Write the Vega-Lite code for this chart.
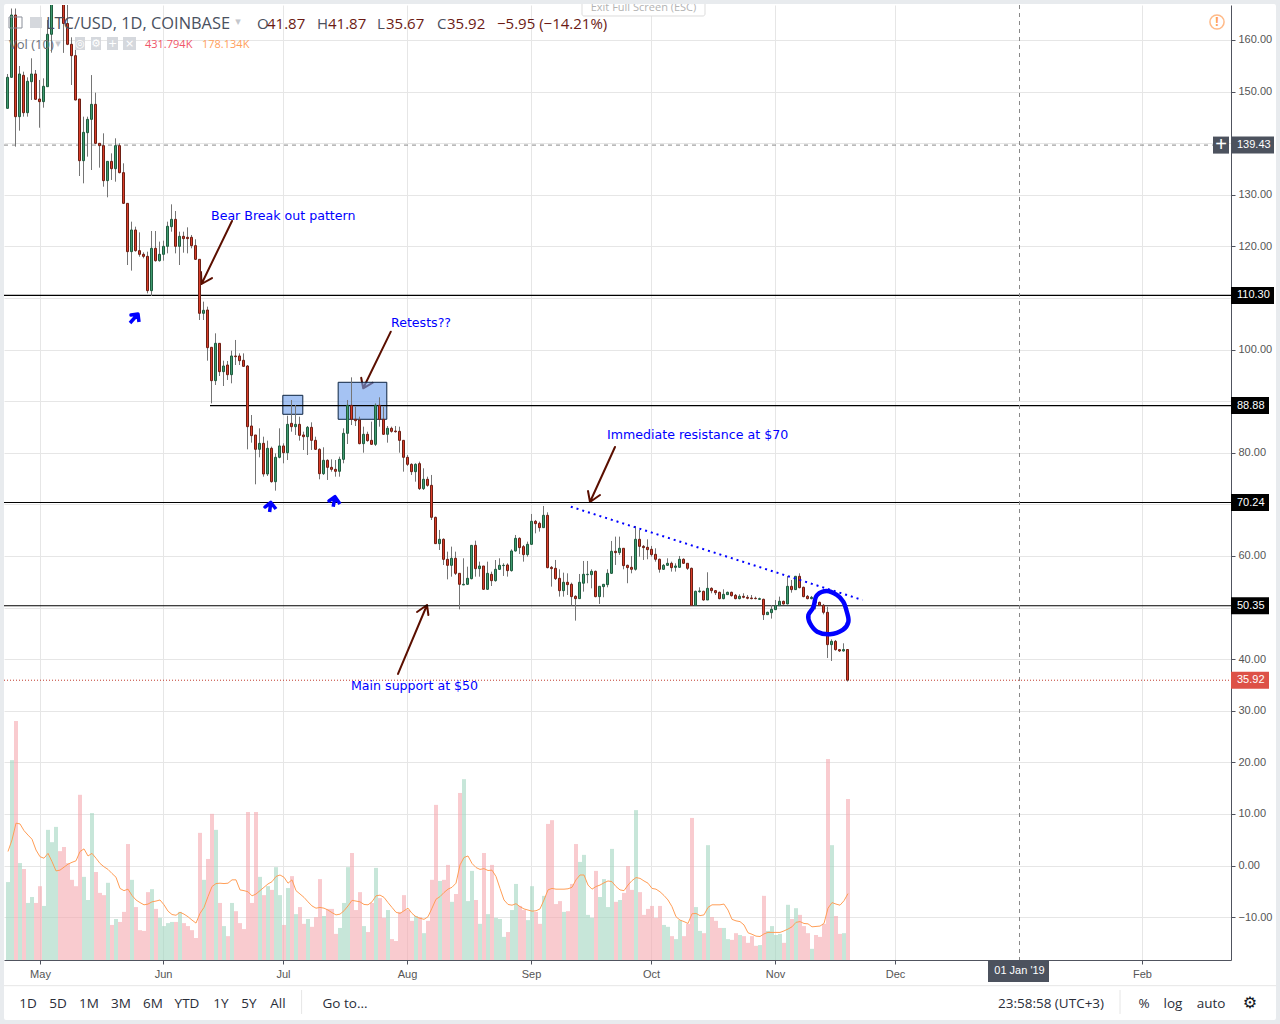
{
"$schema":"https://vega.github.io/schema/vega-lite/v6.json",
"width":1227,"height":955,
"autosize":"none",
"padding":{"left":4,"top":5,"right":49,"bottom":64},
"background":"#ffffff",
"config":{"view":{"stroke":null},"text":{"font":"Open Sans"}},
"datasets":{"bars":[
{"d":"2018-04-23","o":146.75,"h":153.41,"l":146.7,"c":152.76,"v":209,"m":291,"s":"u"},
{"d":"2018-04-24","o":152.76,"h":166.1,"l":152.7,"c":164.84,"v":536,"m":322,"s":"u"},
{"d":"2018-04-25","o":164.84,"h":166.1,"l":139.33,"c":145.14,"v":641,"m":367,"s":"d"},
{"d":"2018-04-26","o":145.14,"h":154.96,"l":142.43,"c":153.41,"v":260,"m":365,"s":"u"},
{"d":"2018-04-27","o":153.15,"h":153.86,"l":145.14,"c":145.91,"v":244,"m":347,"s":"d"},
{"d":"2018-04-28","o":145.91,"h":152.76,"l":145.14,"c":151.99,"v":153,"m":335,"s":"u"},
{"d":"2018-04-29","o":151.92,"h":156.45,"l":148.37,"c":153.41,"v":169,"m":324,"s":"u"},
{"d":"2018-04-30","o":153.41,"h":154.18,"l":148.37,"c":148.5,"v":153,"m":295,"s":"d"},
{"d":"2018-05-01","o":148.56,"h":152.25,"l":143.0,"c":148.05,"v":198,"m":277,"s":"d"},
{"d":"2018-05-02","o":148.05,"h":152.57,"l":146.88,"c":151.02,"v":145,"m":273,"s":"u"},
{"d":"2018-05-03","o":150.95,"h":163.87,"l":150.95,"c":161.1,"v":349,"m":286,"s":"u"},
{"d":"2018-05-04","o":161.1,"h":171,"l":157.54,"c":169,"v":316,"m":264,"s":"u"},
{"d":"2018-05-05","o":169,"h":174,"l":168,"c":172,"v":357,"m":239,"s":"u"},
{"d":"2018-05-06","o":172,"h":175,"l":168,"c":170,"v":292,"m":241,"s":"d"},
{"d":"2018-05-07","o":170,"h":172,"l":157.5,"c":163.2,"v":303,"m":249,"s":"d"},
{"d":"2018-05-08","o":163.2,"h":168,"l":159,"c":159.16,"v":260,"m":257,"s":"d"},
{"d":"2018-05-09","o":159.16,"h":160.52,"l":151.28,"c":156.96,"v":215,"m":262,"s":"d"},
{"d":"2018-05-10","o":156.96,"h":160.52,"l":148.3,"c":148.37,"v":198,"m":266,"s":"d"},
{"d":"2018-05-11","o":148.56,"h":148.56,"l":133.64,"c":136.61,"v":443,"m":291,"s":"d"},
{"d":"2018-05-12","o":136.61,"h":145.14,"l":132.22,"c":142.1,"v":223,"m":298,"s":"u"},
{"d":"2018-05-13","o":142.04,"h":145.14,"l":137.39,"c":144.62,"v":161,"m":279,"s":"u"},
{"d":"2018-05-14","o":144.62,"h":153.2,"l":134.8,"c":147.53,"v":394,"m":286,"s":"u"},
{"d":"2018-05-15","o":147.53,"h":149.79,"l":139.84,"c":139.97,"v":236,"m":273,"s":"d"},
{"d":"2018-05-16","o":139.97,"h":139.97,"l":135.26,"c":139.52,"v":180,"m":259,"s":"d"},
{"d":"2018-05-17","o":139.52,"h":141.91,"l":131.57,"c":132.74,"v":174,"m":250,"s":"d"},
{"d":"2018-05-18","o":132.74,"h":136.48,"l":129.51,"c":136.48,"v":207,"m":243,"s":"u"},
{"d":"2018-05-19","o":136.48,"h":138.03,"l":132.87,"c":135.06,"v":94,"m":232,"s":"d"},
{"d":"2018-05-20","o":135.06,"h":140.94,"l":132.54,"c":139.52,"v":110,"m":222,"s":"u"},
{"d":"2018-05-21","o":139.52,"h":139.97,"l":134.16,"c":134.29,"v":102,"m":192,"s":"d"},
{"d":"2018-05-22","o":134.29,"h":136.1,"l":128.21,"c":128.34,"v":129,"m":186,"s":"d"},
{"d":"2018-05-23","o":128.34,"h":128.34,"l":116.39,"c":118.98,"v":311,"m":190,"s":"d"},
{"d":"2018-05-24","o":118.98,"h":124.79,"l":115.3,"c":123.18,"v":215,"m":173,"s":"u"},
{"d":"2018-05-25","o":123.18,"h":123.82,"l":118.98,"c":119.17,"v":142,"m":161,"s":"d"},
{"d":"2018-05-26","o":119.17,"h":122.72,"l":118.0,"c":118.46,"v":80,"m":154,"s":"d"},
{"d":"2018-05-27","o":118.46,"h":118.85,"l":117.69,"c":118.07,"v":78,"m":148,"s":"d"},
{"d":"2018-05-28","o":118.07,"h":118.98,"l":110.9,"c":111.42,"v":182,"m":150,"s":"d"},
{"d":"2018-05-29","o":111.42,"h":122.98,"l":110.38,"c":119.62,"v":190,"m":156,"s":"u"},
{"d":"2018-05-30","o":119.62,"h":122.98,"l":117.04,"c":117.23,"v":137,"m":158,"s":"d"},
{"d":"2018-05-31","o":117.23,"h":120.92,"l":117.04,"c":118.46,"v":113,"m":161,"s":"u"},
{"d":"2018-06-01","o":118.46,"h":121.11,"l":117.23,"c":120.01,"v":91,"m":148,"s":"u"},
{"d":"2018-06-02","o":120.01,"h":124.79,"l":118.65,"c":123.89,"v":99,"m":131,"s":"u"},
{"d":"2018-06-03","o":123.82,"h":128.15,"l":122.85,"c":125.24,"v":102,"m":122,"s":"u"},
{"d":"2018-06-04","o":125.24,"h":126.86,"l":118.65,"c":120.01,"v":102,"m":120,"s":"d"},
{"d":"2018-06-05","o":120.01,"h":122.85,"l":116.39,"c":121.95,"v":129,"m":128,"s":"u"},
{"d":"2018-06-06","o":121.95,"h":122.85,"l":118.78,"c":121.5,"v":99,"m":123,"s":"d"},
{"d":"2018-06-07","o":121.76,"h":123.69,"l":118.65,"c":121.5,"v":91,"m":116,"s":"d"},
{"d":"2018-06-08","o":121.76,"h":122.21,"l":119.62,"c":120.14,"v":80,"m":107,"s":"d"},
{"d":"2018-06-09","o":120.14,"h":121.37,"l":117.36,"c":117.49,"v":59,"m":99,"s":"d"},
{"d":"2018-06-10","o":117.49,"h":117.49,"l":105.73,"c":107.03,"v":341,"m":125,"s":"d"},
{"d":"2018-06-11","o":107.03,"h":109.29,"l":105.73,"c":107.61,"v":215,"m":141,"s":"u"},
{"d":"2018-06-12","o":107.67,"h":108.32,"l":97.85,"c":100.37,"v":271,"m":170,"s":"d"},
{"d":"2018-06-13","o":100.44,"h":100.44,"l":89.58,"c":93.98,"v":392,"m":197,"s":"d"},
{"d":"2018-06-14","o":93.98,"h":103.15,"l":93.14,"c":101.21,"v":349,"m":205,"s":"u"},
{"d":"2018-06-15","o":101.21,"h":101.21,"l":94.88,"c":95.72,"v":153,"m":206,"s":"d"},
{"d":"2018-06-16","o":95.72,"h":97.85,"l":92.94,"c":96.82,"v":91,"m":205,"s":"u"},
{"d":"2018-06-17","o":97.01,"h":97.79,"l":94.11,"c":95.14,"v":64,"m":206,"s":"d"},
{"d":"2018-06-18","o":95.14,"h":99.79,"l":93.46,"c":98.76,"v":153,"m":215,"s":"u"},
{"d":"2018-06-19","o":98.76,"h":101.86,"l":97.01,"c":98.63,"v":131,"m":215,"s":"d"},
{"d":"2018-06-20","o":98.76,"h":99.27,"l":97.01,"c":97.85,"v":99,"m":188,"s":"d"},
{"d":"2018-06-21","o":97.92,"h":99.27,"l":96.69,"c":96.75,"v":83,"m":186,"s":"d"},
{"d":"2018-06-22","o":96.82,"h":97.01,"l":80.67,"c":85.06,"v":397,"m":183,"s":"d"},
{"d":"2018-06-23","o":85.19,"h":87.32,"l":81.96,"c":83.32,"v":153,"m":172,"s":"d"},
{"d":"2018-06-24","o":83.45,"h":83.45,"l":73.89,"c":80.67,"v":397,"m":177,"s":"d"},
{"d":"2018-06-25","o":80.67,"h":84.74,"l":79.12,"c":81.83,"v":223,"m":186,"s":"u"},
{"d":"2018-06-26","o":81.83,"h":83.12,"l":75.37,"c":75.89,"v":174,"m":195,"s":"d"},
{"d":"2018-06-27","o":75.89,"h":82.35,"l":75.5,"c":80.86,"v":198,"m":204,"s":"u"},
{"d":"2018-06-28","o":80.86,"h":81.19,"l":74.21,"c":74.4,"v":188,"m":210,"s":"d"},
{"d":"2018-06-29","o":74.4,"h":79.89,"l":72.66,"c":79.12,"v":249,"m":224,"s":"u"},
{"d":"2018-06-30","o":79.12,"h":84.74,"l":78.93,"c":81.32,"v":174,"m":228,"s":"u"},
{"d":"2018-07-01","o":81.32,"h":81.83,"l":77.96,"c":80.02,"v":94,"m":222,"s":"d"},
{"d":"2018-07-02","o":80.02,"h":87.19,"l":78.6,"c":85.51,"v":193,"m":206,"s":"u"},
{"d":"2018-07-03","o":85.71,"h":90.23,"l":84.09,"c":85.06,"v":225,"m":215,"s":"d"},
{"d":"2018-07-04","o":85.06,"h":89.26,"l":83.45,"c":85.51,"v":123,"m":186,"s":"u"},
{"d":"2018-07-05","o":85.51,"h":87.0,"l":82.35,"c":83.38,"v":142,"m":177,"s":"d"},
{"d":"2018-07-06","o":83.45,"h":84.09,"l":80.54,"c":83.12,"v":97,"m":168,"s":"d"},
{"d":"2018-07-07","o":83.12,"h":85.19,"l":79.57,"c":84.93,"v":110,"m":156,"s":"u"},
{"d":"2018-07-08","o":84.93,"h":85.9,"l":80.54,"c":82.41,"v":89,"m":145,"s":"d"},
{"d":"2018-07-09","o":82.41,"h":83.12,"l":80.54,"c":80.67,"v":115,"m":139,"s":"d"},
{"d":"2018-07-10","o":80.67,"h":80.86,"l":74.86,"c":75.95,"v":217,"m":141,"s":"d"},
{"d":"2018-07-11","o":75.95,"h":81.06,"l":75.7,"c":78.54,"v":118,"m":139,"s":"u"},
{"d":"2018-07-12","o":78.54,"h":78.73,"l":74.73,"c":77.18,"v":137,"m":134,"s":"d"},
{"d":"2018-07-13","o":77.18,"h":78.73,"l":76.34,"c":76.79,"v":137,"m":127,"s":"d"},
{"d":"2018-07-14","o":76.79,"h":78.6,"l":75.37,"c":76.41,"v":70,"m":121,"s":"d"},
{"d":"2018-07-15","o":76.41,"h":79.25,"l":75.37,"c":78.73,"v":86,"m":123,"s":"u"},
{"d":"2018-07-16","o":78.73,"h":84.74,"l":77.96,"c":83.77,"v":153,"m":132,"s":"u"},
{"d":"2018-07-17","o":83.77,"h":90.23,"l":81.7,"c":89.2,"v":249,"m":145,"s":"u"},
{"d":"2018-07-18","o":89.2,"h":94.62,"l":85.38,"c":86.48,"v":287,"m":160,"s":"d"},
{"d":"2018-07-19","o":86.48,"h":88.94,"l":85.19,"c":86.22,"v":134,"m":158,"s":"d"},
{"d":"2018-07-20","o":86.35,"h":87.0,"l":81.64,"c":81.77,"v":182,"m":156,"s":"d"},
{"d":"2018-07-21","o":81.77,"h":85.06,"l":80.02,"c":83.58,"v":91,"m":149,"s":"u"},
{"d":"2018-07-22","o":83.58,"h":84.09,"l":82.15,"c":82.35,"v":75,"m":148,"s":"d"},
{"d":"2018-07-23","o":82.41,"h":86.03,"l":81.51,"c":81.64,"v":153,"m":156,"s":"d"},
{"d":"2018-07-24","o":81.64,"h":89.58,"l":81.32,"c":89.2,"v":247,"m":172,"s":"u"},
{"d":"2018-07-25","o":89.2,"h":90.75,"l":85.06,"c":86.48,"v":166,"m":174,"s":"d"},
{"d":"2018-07-26","o":86.48,"h":88.94,"l":83.45,"c":83.58,"v":113,"m":168,"s":"d"},
{"d":"2018-07-27","o":83.58,"h":85.19,"l":81.96,"c":84.74,"v":134,"m":154,"s":"u"},
{"d":"2018-07-28","o":84.74,"h":85.06,"l":83.9,"c":84.16,"v":56,"m":141,"s":"d"},
{"d":"2018-07-29","o":84.22,"h":85.19,"l":83.9,"c":84.09,"v":51,"m":128,"s":"d"},
{"d":"2018-07-30","o":84.16,"h":85.06,"l":80.02,"c":82.41,"v":129,"m":125,"s":"d"},
{"d":"2018-07-31","o":82.41,"h":82.41,"l":76.34,"c":79.12,"v":174,"m":132,"s":"d"},
{"d":"2018-08-01","o":79.12,"h":79.57,"l":77.44,"c":77.76,"v":134,"m":139,"s":"d"},
{"d":"2018-08-02","o":77.76,"h":77.96,"l":75.7,"c":76.34,"v":105,"m":125,"s":"d"},
{"d":"2018-08-03","o":76.34,"h":77.96,"l":74.4,"c":77.76,"v":118,"m":116,"s":"u"},
{"d":"2018-08-04","o":77.89,"h":78.28,"l":72.79,"c":73.05,"v":115,"m":112,"s":"d"},
{"d":"2018-08-05","o":73.05,"h":76.99,"l":72.79,"c":74.86,"v":72,"m":109,"s":"u"},
{"d":"2018-08-06","o":74.86,"h":75.37,"l":73.43,"c":73.69,"v":105,"m":116,"s":"d"},
{"d":"2018-08-07","o":73.69,"h":75.7,"l":66.97,"c":67.49,"v":215,"m":139,"s":"d"},
{"d":"2018-08-08","o":67.49,"h":67.62,"l":62.32,"c":62.39,"v":416,"m":163,"s":"d"},
{"d":"2018-08-09","o":62.39,"h":65.04,"l":61.16,"c":63.23,"v":212,"m":170,"s":"u"},
{"d":"2018-08-10","o":63.23,"h":63.42,"l":58.25,"c":59.35,"v":215,"m":181,"s":"d"},
{"d":"2018-08-11","o":59.35,"h":60.84,"l":55.47,"c":58.19,"v":255,"m":190,"s":"d"},
{"d":"2018-08-12","o":58.19,"h":61.81,"l":55.99,"c":59.55,"v":156,"m":195,"s":"u"},
{"d":"2018-08-13","o":59.55,"h":60.84,"l":56.31,"c":56.64,"v":177,"m":206,"s":"d"},
{"d":"2018-08-14","o":56.64,"h":56.64,"l":49.66,"c":54.51,"v":448,"m":255,"s":"d"},
{"d":"2018-08-15","o":54.38,"h":59.55,"l":54.38,"c":54.51,"v":485,"m":275,"s":"u"},
{"d":"2018-08-16","o":54.51,"h":57.93,"l":54.38,"c":55.67,"v":158,"m":279,"s":"u"},
{"d":"2018-08-17","o":55.6,"h":62.13,"l":55.47,"c":62.06,"v":239,"m":259,"s":"u"},
{"d":"2018-08-18","o":62.06,"h":62.97,"l":55.99,"c":57.54,"v":161,"m":248,"s":"d"},
{"d":"2018-08-19","o":57.54,"h":58.9,"l":55.99,"c":58.06,"v":97,"m":243,"s":"u"},
{"d":"2018-08-20","o":58.06,"h":58.06,"l":53.41,"c":53.54,"v":287,"m":245,"s":"d"},
{"d":"2018-08-21","o":53.54,"h":58.9,"l":53.41,"c":56.64,"v":123,"m":240,"s":"u"},
{"d":"2018-08-22","o":56.44,"h":56.96,"l":54.18,"c":55.22,"v":255,"m":241,"s":"d"},
{"d":"2018-08-23","o":55.22,"h":59.22,"l":55.02,"c":57.41,"v":113,"m":224,"s":"u"},
{"d":"2018-08-24","o":57.41,"h":59.55,"l":57.28,"c":58.19,"v":110,"m":192,"s":"u"},
{"d":"2018-08-25","o":58.19,"h":58.58,"l":56.13,"c":58.13,"v":62,"m":161,"s":"u"},
{"d":"2018-08-26","o":58.26,"h":58.58,"l":56.0,"c":57.16,"v":75,"m":149,"s":"d"},
{"d":"2018-08-27","o":57.16,"h":61.29,"l":56.97,"c":60.97,"v":134,"m":147,"s":"u"},
{"d":"2018-08-28","o":60.97,"h":64.07,"l":60.84,"c":63.42,"v":204,"m":151,"s":"u"},
{"d":"2018-08-29","o":63.42,"h":63.62,"l":60.39,"c":61.62,"v":145,"m":143,"s":"d"},
{"d":"2018-08-30","o":61.81,"h":62.13,"l":58.9,"c":60.26,"v":134,"m":137,"s":"d"},
{"d":"2018-08-31","o":60.26,"h":62.78,"l":59.87,"c":62.26,"v":107,"m":134,"s":"u"},
{"d":"2018-09-01","o":62.26,"h":68.14,"l":62.13,"c":66.72,"v":198,"m":131,"s":"u"},
{"d":"2018-09-02","o":66.72,"h":66.98,"l":64.39,"c":66.27,"v":129,"m":132,"s":"d"},
{"d":"2018-09-03","o":66.33,"h":66.66,"l":64.72,"c":65.49,"v":97,"m":137,"s":"d"},
{"d":"2018-09-04","o":65.49,"h":69.69,"l":65.49,"c":67.88,"v":172,"m":161,"s":"u"},
{"d":"2018-09-05","o":67.88,"h":68.46,"l":57.61,"c":57.74,"v":365,"m":188,"s":"d"},
{"d":"2018-09-06","o":57.8,"h":58.06,"l":54.06,"c":57.55,"v":375,"m":192,"s":"d"},
{"d":"2018-09-07","o":57.61,"h":59.23,"l":55.35,"c":55.61,"v":150,"m":190,"s":"d"},
{"d":"2018-09-08","o":55.67,"h":57.42,"l":52.12,"c":53.28,"v":158,"m":190,"s":"d"},
{"d":"2018-09-09","o":53.28,"h":56.77,"l":52.12,"c":54.9,"v":129,"m":190,"s":"u"},
{"d":"2018-09-10","o":54.9,"h":56.64,"l":52.44,"c":54.45,"v":131,"m":191,"s":"d"},
{"d":"2018-09-11","o":54.51,"h":54.83,"l":50.44,"c":52.12,"v":204,"m":195,"s":"d"},
{"d":"2018-09-12","o":52.18,"h":52.38,"l":47.47,"c":51.73,"v":311,"m":215,"s":"d"},
{"d":"2018-09-13","o":51.73,"h":56.51,"l":51.73,"c":54.9,"v":263,"m":228,"s":"u"},
{"d":"2018-09-14","o":54.72,"h":59.03,"l":53.09,"c":56.45,"v":282,"m":228,"s":"u"},
{"d":"2018-09-15","o":56.38,"h":59.03,"l":54.72,"c":56.45,"v":121,"m":201,"s":"u"},
{"d":"2018-09-16","o":56.38,"h":57.42,"l":53.73,"c":57.03,"v":113,"m":190,"s":"u"},
{"d":"2018-09-17","o":57.03,"h":57.16,"l":52.0,"c":52.12,"v":239,"m":197,"s":"d"},
{"d":"2018-09-18","o":52.12,"h":54.12,"l":50.7,"c":54.12,"v":169,"m":201,"s":"u"},
{"d":"2018-09-19","o":54.06,"h":54.57,"l":52.0,"c":54.51,"v":217,"m":207,"s":"u"},
{"d":"2018-09-20","o":54.45,"h":57.42,"l":53.93,"c":56.64,"v":142,"m":212,"s":"u"},
{"d":"2018-09-21","o":56.64,"h":62.91,"l":56.51,"c":60.91,"v":298,"m":210,"s":"u"},
{"d":"2018-09-22","o":60.91,"h":63.75,"l":58.26,"c":60.65,"v":156,"m":197,"s":"d"},
{"d":"2018-09-23","o":60.65,"h":63.75,"l":60.2,"c":61.49,"v":161,"m":188,"s":"u"},
{"d":"2018-09-24","o":61.49,"h":61.49,"l":57.42,"c":58.13,"v":180,"m":186,"s":"d"},
{"d":"2018-09-25","o":58.19,"h":58.32,"l":54.72,"c":57.74,"v":252,"m":201,"s":"d"},
{"d":"2018-09-26","o":57.8,"h":60.0,"l":56.64,"c":57.42,"v":188,"m":213,"s":"d"},
{"d":"2018-09-27","o":57.42,"h":65.82,"l":57.16,"c":63.23,"v":402,"m":221,"s":"u"},
{"d":"2018-09-28","o":63.23,"h":65.04,"l":59.87,"c":61.87,"v":182,"m":219,"s":"d"},
{"d":"2018-09-29","o":61.87,"h":62.13,"l":59.23,"c":61.62,"v":121,"m":212,"s":"d"},
{"d":"2018-09-30","o":61.68,"h":63.23,"l":59.36,"c":61.23,"v":137,"m":206,"s":"d"},
{"d":"2018-10-01","o":61.29,"h":61.94,"l":59.87,"c":60.26,"v":145,"m":192,"s":"d"},
{"d":"2018-10-02","o":60.32,"h":61.49,"l":58.9,"c":59.36,"v":113,"m":190,"s":"d"},
{"d":"2018-10-03","o":59.36,"h":59.49,"l":56.77,"c":57.42,"v":145,"m":183,"s":"d"},
{"d":"2018-10-04","o":57.42,"h":58.45,"l":57.29,"c":58.19,"v":94,"m":173,"s":"u"},
{"d":"2018-10-05","o":58.19,"h":59.55,"l":58.06,"c":58.58,"v":89,"m":161,"s":"u"},
{"d":"2018-10-06","o":58.58,"h":58.9,"l":56.97,"c":57.74,"v":64,"m":143,"s":"d"},
{"d":"2018-10-07","o":57.8,"h":58.58,"l":56.97,"c":58.06,"v":56,"m":116,"s":"u"},
{"d":"2018-10-08","o":57.8,"h":60.0,"l":57.74,"c":59.36,"v":107,"m":107,"s":"u"},
{"d":"2018-10-09","o":59.36,"h":59.55,"l":58.45,"c":58.58,"v":64,"m":103,"s":"d"},
{"d":"2018-10-10","o":58.58,"h":58.58,"l":57.29,"c":57.61,"v":97,"m":98,"s":"d"},
{"d":"2018-10-11","o":57.61,"h":57.74,"l":50.31,"c":50.44,"v":381,"m":124,"s":"d"},
{"d":"2018-10-12","o":50.44,"h":53.28,"l":50.31,"c":53.15,"v":142,"m":125,"s":"u"},
{"d":"2018-10-13","o":53.09,"h":53.93,"l":52.89,"c":53.22,"v":78,"m":119,"s":"u"},
{"d":"2018-10-14","o":53.15,"h":53.28,"l":51.34,"c":51.47,"v":72,"m":121,"s":"d"},
{"d":"2018-10-15","o":51.47,"h":56.84,"l":51.47,"c":53.73,"v":308,"m":141,"s":"u"},
{"d":"2018-10-16","o":53.73,"h":53.93,"l":52.77,"c":53.28,"v":115,"m":148,"s":"d"},
{"d":"2018-10-17","o":53.28,"h":53.41,"l":52.44,"c":52.89,"v":105,"m":148,"s":"d"},
{"d":"2018-10-18","o":52.96,"h":53.09,"l":51.6,"c":51.73,"v":86,"m":148,"s":"d"},
{"d":"2018-10-19","o":51.73,"h":53.54,"l":51.6,"c":52.57,"v":86,"m":150,"s":"u"},
{"d":"2018-10-20","o":52.51,"h":53.09,"l":52.44,"c":52.96,"v":56,"m":134,"s":"u"},
{"d":"2018-10-21","o":52.96,"h":53.09,"l":52.12,"c":52.31,"v":54,"m":109,"s":"d"},
{"d":"2018-10-22","o":52.38,"h":52.64,"l":51.6,"c":51.73,"v":72,"m":105,"s":"d"},
{"d":"2018-10-23","o":51.73,"h":52.57,"l":51.6,"c":52.18,"v":67,"m":103,"s":"u"},
{"d":"2018-10-24","o":52.18,"h":52.77,"l":51.8,"c":51.99,"v":64,"m":94,"s":"d"},
{"d":"2018-10-25","o":51.99,"h":52.44,"l":51.6,"c":51.8,"v":46,"m":73,"s":"d"},
{"d":"2018-10-26","o":51.86,"h":52.44,"l":51.6,"c":51.73,"v":64,"m":69,"s":"d"},
{"d":"2018-10-27","o":51.8,"h":52.12,"l":51.6,"c":51.73,"v":38,"m":64,"s":"d"},
{"d":"2018-10-28","o":51.6,"h":51.93,"l":51.47,"c":51.73,"v":40,"m":63,"s":"u"},
{"d":"2018-10-29","o":51.6,"h":51.73,"l":47.6,"c":48.63,"v":172,"m":70,"s":"d"},
{"d":"2018-10-30","o":48.63,"h":49.21,"l":48.57,"c":49.08,"v":78,"m":74,"s":"u"},
{"d":"2018-10-31","o":49.02,"h":50.5,"l":47.86,"c":49.66,"v":91,"m":74,"s":"u"},
{"d":"2018-11-01","o":49.6,"h":51.47,"l":49.54,"c":50.37,"v":67,"m":74,"s":"u"},
{"d":"2018-11-02","o":50.37,"h":52.12,"l":50.31,"c":51.22,"v":70,"m":74,"s":"u"},
{"d":"2018-11-03","o":51.22,"h":51.34,"l":50.57,"c":50.7,"v":46,"m":78,"s":"d"},
{"d":"2018-11-04","o":50.7,"h":56.13,"l":50.63,"c":54.12,"v":148,"m":83,"s":"u"},
{"d":"2018-11-05","o":54.12,"h":55.35,"l":52.89,"c":53.48,"v":110,"m":89,"s":"d"},
{"d":"2018-11-06","o":53.48,"h":56.13,"l":53.41,"c":56.06,"v":139,"m":101,"s":"u"},
{"d":"2018-11-07","o":56.06,"h":56.64,"l":53.73,"c":53.86,"v":121,"m":103,"s":"d"},
{"d":"2018-11-08","o":53.93,"h":54.06,"l":52.0,"c":52.12,"v":91,"m":98,"s":"d"},
{"d":"2018-11-09","o":52.18,"h":52.44,"l":51.6,"c":51.73,"v":72,"m":97,"s":"d"},
{"d":"2018-11-10","o":51.73,"h":52.25,"l":51.6,"c":51.99,"v":30,"m":89,"s":"u"},
{"d":"2018-11-11","o":51.99,"h":52.12,"l":49.66,"c":50.96,"v":67,"m":90,"s":"d"},
{"d":"2018-11-12","o":51.02,"h":51.15,"l":50.31,"c":50.44,"v":62,"m":91,"s":"d"},
{"d":"2018-11-13","o":50.44,"h":50.7,"l":48.69,"c":49.08,"v":97,"m":98,"s":"d"},
{"d":"2018-11-14","o":49.08,"h":50.18,"l":40.23,"c":42.82,"v":539,"m":139,"s":"d"},
{"d":"2018-11-15","o":42.82,"h":43.85,"l":39.65,"c":43.46,"v":308,"m":154,"s":"u"},
{"d":"2018-11-16","o":43.46,"h":43.72,"l":41.65,"c":41.85,"v":118,"m":150,"s":"d"},
{"d":"2018-11-17","o":41.85,"h":41.91,"l":41.4,"c":41.59,"v":70,"m":147,"s":"d"},
{"d":"2018-11-18","o":41.59,"h":43.08,"l":41.46,"c":41.87,"v":72,"m":159,"s":"u"},
{"d":"2018-11-19","o":41.87,"h":41.87,"l":35.67,"c":35.92,"v":431.794,"m":178.134,"s":"d"}
]},
"data":{"name":"bars"},
"encoding":{"x":{"field":"d","type":"temporal","title":null,
 "scale":{"type":"utc","padding":0,"domain":[{"year":2018,"month":4,"date":22,"utc":true},{"year":2019,"month":2,"date":22,"hours":18,"utc":true}]},
 "axis":{"values":[{"year":2018,"month":5,"date":1,"utc":true},{"year":2018,"month":5,"date":31,"hours":18,"utc":true},{"year":2018,"month":6,"date":30,"hours":18,"utc":true},{"year":2018,"month":7,"date":31,"hours":18,"utc":true},{"year":2018,"month":8,"date":31,"hours":18,"utc":true},{"year":2018,"month":9,"date":30,"hours":18,"utc":true},{"year":2018,"month":10,"date":31,"hours":18,"utc":true},{"year":2018,"month":11,"date":30,"hours":18,"utc":true},{"year":2019,"month":1,"date":31,"hours":12,"utc":true}],
  "labelExpr":"utcFormat(+datum.value+86400000,'%b')","grid":true,"gridColor":"#e6e6e6","domainColor":"#50535e","tickColor":"#50535e","labelColor":"#555555","labelFont":"Liberation Sans","labelFontSize":11,"tickSize":4,"labelPadding":4,"title":null}}},
"resolve":{"scale":{"y":"independent","fill":"independent"}},
"layer":[
 {"mark":{"type":"bar","size":4,"opacity":0.58},
  "encoding":{"y":{"field":"v","type":"quantitative","stack":null,"scale":{"domain":[0,2561.3],"nice":false,"zero":false},"axis":null},
   "color":{"field":"s","type":"nominal","legend":null,"scale":{"domain":["u","d"],"range":["#9fd4bd","#f5a6ad"]}}}},
 {"mark":{"type":"line","color":"#ff9e57","strokeWidth":1,"clip":true},
  "encoding":{"y":{"field":"m","type":"quantitative","scale":{"domain":[0,2561.3],"nice":false,"zero":false},"axis":null}}},
 {"data":{"values":[
  {"id":"a1","n":0,"d":"2018-06-18T00:00:00Z","p":124.92},{"id":"a1","n":1,"d":"2018-06-10T09:00:00Z","p":112.71},{"id":"a1","n":2,"d":"2018-06-10T06:00:00Z","p":115.04},{"id":"a1","n":3,"d":"2018-06-10T09:00:00Z","p":112.71},{"id":"a1","n":4,"d":"2018-06-13T00:00:00Z","p":113.87},
  {"id":"a2","n":0,"d":"2018-07-27T16:48:00Z","p":103.47},{"id":"a2","n":1,"d":"2018-07-20T19:12:00Z","p":92.5},{"id":"a2","n":2,"d":"2018-07-20T07:12:00Z","p":94.55},{"id":"a2","n":3,"d":"2018-07-20T19:12:00Z","p":92.5},{"id":"a2","n":4,"d":"2018-07-23T04:48:00Z","p":93.58},
  {"id":"a3","n":0,"d":"2018-09-21T18:00:00Z","p":81.12},{"id":"a3","n":1,"d":"2018-09-15T12:00:00Z","p":70.46},{"id":"a3","n":2,"d":"2018-09-15T00:00:00Z","p":72.59},{"id":"a3","n":3,"d":"2018-09-15T12:00:00Z","p":70.46},{"id":"a3","n":4,"d":"2018-09-18T00:00:00Z","p":71.82},
  {"id":"a4","n":0,"d":"2018-07-29T12:00:00Z","p":37.13},{"id":"a4","n":1,"d":"2018-08-05T18:00:00Z","p":50.5},{"id":"a4","n":2,"d":"2018-08-03T06:00:00Z","p":49.15},{"id":"a4","n":3,"d":"2018-08-05T18:00:00Z","p":50.5},{"id":"a4","n":4,"d":"2018-08-06T02:24:00Z","p":48.56}
  ]},
  "mark":{"type":"line","color":"#5b0f00","strokeWidth":2,"strokeCap":"round","strokeJoin":"round"},
  "encoding":{"y":{"field":"p","type":"quantitative","scale":{"domain":[-18.3,166.78],"nice":false,"zero":false},
    "axis":{"orient":"right","values":[160,150,140,130,120,110,100,90,80,70,60,50,40,30,20,10,0,-10],"labelExpr":"indexof([140,110,90,70,50],datum.value)>=0?'':format(datum.value,'.2f')","grid":true,"gridColor":"#e6e6e6","domainColor":"#50535e","tickColor":"#50535e","labelColor":"#555555","labelFont":"Liberation Sans","labelFontSize":11,"tickSize":4,"labelPadding":3,"title":null}},
   "detail":{"field":"id"},"order":{"field":"n"}}},
 {"data":{"values":[
  {"d":"2018-06-30T16:48:00Z","d2":"2018-07-05T16:48:00Z","p":91.14,"p2":87.46},
  {"d":"2018-07-14T13:00:00Z","d2":"2018-07-26T16:48:00Z","p":93.66,"p2":86.49}],"format":{"parse":{"d":"date","d2":"date"}}},
  "mark":{"type":"rect","fill":"#6d9eeb","fillOpacity":0.62,"stroke":"#0c2340","strokeWidth":1},
  "encoding":{"x2":{"field":"d2"},"y":{"field":"p","type":"quantitative","scale":{"domain":[-18.3,166.78],"nice":false,"zero":false},"axis":null},"y2":{"field":"p2"}}},
 {"data":{"values":[
  {"d":"2018-04-22T00:00:00Z","d2":"2019-02-22T18:00:00Z","p":110.5},
  {"d":"2018-06-12T12:00:00Z","d2":"2019-02-22T18:00:00Z","p":89.15},
  {"d":"2018-04-22T00:00:00Z","d2":"2019-02-22T18:00:00Z","p":70.36},
  {"d":"2018-04-22T00:00:00Z","d2":"2019-02-22T18:00:00Z","p":50.35}],"format":{"parse":{"d":"date","d2":"date"}}},
  "mark":{"type":"rule","color":"#000000","strokeWidth":1.2},
  "encoding":{"x2":{"field":"d2"},"y":{"field":"p","type":"quantitative","scale":{"domain":[-18.3,166.78],"nice":false,"zero":false},"axis":null}}},
 {"data":{"values":[{"d":"2018-04-22T00:00:00Z","d2":"2019-02-22T18:00:00Z","p":35.92}],"format":{"parse":{"d":"date","d2":"date"}}},
  "mark":{"type":"rule","color":"#c0392b","strokeWidth":1,"strokeDash":[1,2]},
  "encoding":{"x2":{"field":"d2"},"y":{"field":"p","type":"quantitative","scale":{"domain":[-18.3,166.78],"nice":false,"zero":false},"axis":null}}},
 {"data":{"values":[{"d":"2018-04-22T00:00:00Z","d2":"2019-02-19T00:00:00Z","p":139.63}],"format":{"parse":{"d":"date","d2":"date"}}},
  "mark":{"type":"rule","color":"#888888","strokeWidth":1,"strokeDash":[4,4]},
  "encoding":{"x2":{"field":"d2"},"y":{"field":"p","type":"quantitative","scale":{"domain":[-18.3,166.78],"nice":false,"zero":false},"axis":null}}},
 {"data":{"values":[{"d":"2019-01-01T00:00:00Z","p":166.78,"p2":-18.3}]},
  "mark":{"type":"rule","color":"#888888","strokeWidth":1,"strokeDash":[4,4],"xOffset":-0.5},
  "encoding":{"y":{"field":"p","type":"quantitative","scale":{"domain":[-18.3,166.78],"nice":false,"zero":false},"axis":null},"y2":{"field":"p2"}}},
 {"mark":{"type":"rule","color":"#757575","strokeWidth":1,"xOffset":-0.5,"clip":true},
  "encoding":{"y":{"field":"l","type":"quantitative","scale":{"domain":[-18.3,166.78],"nice":false,"zero":false},"axis":null},"y2":{"field":"h"}}},
 {"mark":{"type":"bar","size":2,"strokeWidth":1,"xOffset":-0.5,"clip":true},
  "encoding":{"y":{"field":"o","type":"quantitative","scale":{"domain":[-18.3,166.78],"nice":false,"zero":false},"axis":null},"y2":{"field":"c"},
   "fill":{"field":"s","type":"nominal","legend":null,"scale":{"domain":["u","d"],"range":["#3f9a6e","#d93c28"]}},
   "stroke":{"field":"s","type":"nominal","legend":null,"scale":{"domain":["u","d"],"range":["#1f5c3f","#6e1f14"]}}}},
 {"data":{"values":[{"d":"2018-09-10T16:48:00Z","p":69.55},{"d":"2018-11-22T14:24:00Z","p":51.47}]},
  "mark":{"type":"line","color":"#0000ff","strokeWidth":2,"strokeDash":[2,4]},
  "encoding":{"y":{"field":"p","type":"quantitative","scale":{"domain":[-18.3,166.78],"nice":false,"zero":false},"axis":null}}},
 {"data":{"values":[
  {"n":0,"d":"2018-11-10T14:24:00Z","p":50.83},{"n":1,"d":"2018-11-11T07:12:00Z","p":52.44},{"n":2,"d":"2018-11-13T16:48:00Z","p":53.21},{"n":3,"d":"2018-11-16T04:48:00Z","p":52.44},{"n":4,"d":"2018-11-17T19:12:00Z","p":51.14},{"n":5,"d":"2018-11-18T16:48:00Z","p":49.2},{"n":6,"d":"2018-11-19T02:24:00Z","p":47.26},{"n":7,"d":"2018-11-17T16:48:00Z","p":45.66},{"n":8,"d":"2018-11-14T12:00:00Z","p":44.82},{"n":9,"d":"2018-11-11T07:12:00Z","p":45.33},{"n":10,"d":"2018-11-09T12:00:00Z","p":46.95},{"n":11,"d":"2018-11-09T02:24:00Z","p":48.56},{"n":12,"d":"2018-11-10T04:48:00Z","p":49.86},{"n":13,"d":"2018-11-10T14:24:00Z","p":50.83}]},
  "mark":{"type":"line","color":"#0000ff","strokeWidth":4.5,"interpolate":"cardinal","strokeCap":"round"},
  "encoding":{"y":{"field":"p","type":"quantitative","scale":{"domain":[-18.3,166.78],"nice":false,"zero":false},"axis":null},"order":{"field":"n"}}},
 {"data":{"values":[
  {"id":"b1","n":0,"d":"2018-05-23T12:00:00Z","p":105.15},{"id":"b1","n":1,"d":"2018-05-25T12:00:00Z","p":106.9},{"id":"b1","n":2,"d":"2018-05-23T18:00:00Z","p":106.7},{"id":"b1","n":3,"d":"2018-05-25T12:00:00Z","p":106.9},{"id":"b1","n":4,"d":"2018-05-25T18:00:00Z","p":105.35},
  {"id":"b2","n":0,"d":"2018-06-27T09:36:00Z","p":68.52},{"id":"b2","n":1,"d":"2018-06-27T16:48:00Z","p":70.37},{"id":"b2","n":2,"d":"2018-06-26T06:00:00Z","p":69.49},{"id":"b2","n":3,"d":"2018-06-27T16:48:00Z","p":70.37},{"id":"b2","n":4,"d":"2018-06-29T00:00:00Z","p":69.11},
  {"id":"b3","n":0,"d":"2018-07-13T07:12:00Z","p":69.55},{"id":"b3","n":1,"d":"2018-07-13T18:00:00Z","p":71.49},{"id":"b3","n":2,"d":"2018-07-12T06:00:00Z","p":70.66},{"id":"b3","n":3,"d":"2018-07-13T18:00:00Z","p":71.49},{"id":"b3","n":4,"d":"2018-07-15T00:00:00Z","p":70.07}]},
  "mark":{"type":"line","color":"#0000ff","strokeWidth":3.5,"strokeJoin":"round"},
  "encoding":{"y":{"field":"p","type":"quantitative","scale":{"domain":[-18.3,166.78],"nice":false,"zero":false},"axis":null},"detail":{"field":"id"},"order":{"field":"n"}}},
 {"data":{"values":[
  {"d":"2018-06-12T18:00:00Z","p":125.99,"t":"Bear Break out pattern"},
  {"d":"2018-07-27T18:00:00Z","p":105.25,"t":"Retests??"},
  {"d":"2018-09-19T18:00:00Z","p":83.55,"t":"Immediate resistance at $70"},
  {"d":"2018-07-17T18:00:00Z","p":34.9,"t":"Main support at $50"}]},
  "mark":{"type":"text","align":"left","baseline":"middle","dy":1,"color":"#0000ff","font":"DejaVu Sans","fontSize":12.6},
  "encoding":{"y":{"field":"p","type":"quantitative","scale":{"domain":[-18.3,166.78],"nice":false,"zero":false},"axis":null},"text":{"field":"t"}}},
 {"data":{"values":[
  {"d":"2019-02-22T18:00:00Z","d2":"2019-03-05T12:00:00Z","p":112.15,"p2":108.85,"c":"k"},
  {"d":"2019-02-22T18:00:00Z","d2":"2019-03-04T06:00:00Z","p":90.8,"p2":87.5,"c":"k"},
  {"d":"2019-02-22T18:00:00Z","d2":"2019-03-04T06:00:00Z","p":72.01,"p2":68.71,"c":"k"},
  {"d":"2019-02-22T18:00:00Z","d2":"2019-03-04T06:00:00Z","p":52.0,"p2":48.7,"c":"k"},
  {"d":"2019-02-22T18:00:00Z","d2":"2019-03-04T06:00:00Z","p":37.57,"p2":34.27,"c":"r"},
  {"d":"2019-02-22T18:00:00Z","d2":"2019-03-05T12:00:00Z","p":141.28,"p2":137.98,"c":"g"},
  {"d":"2019-02-18T06:00:00Z","d2":"2019-02-22T06:00:00Z","p":141.28,"p2":137.98,"c":"g"},
  {"d":"2018-12-24T00:00:00Z","d2":"2019-01-08T06:00:00Z","p":-18.3,"p2":-22.56,"c":"g"}],"format":{"parse":{"d":"date","d2":"date"}}},
  "mark":{"type":"rect"},
  "encoding":{"x2":{"field":"d2"},"y":{"field":"p","type":"quantitative","scale":{"domain":[-18.3,166.78],"nice":false,"zero":false},"axis":null},"y2":{"field":"p2"},
   "fill":{"field":"c","type":"nominal","legend":null,"scale":{"domain":["k","r","g"],"range":["#000000","#dd5147","#4c525e"]}}}},
 {"data":{"values":[
  {"d":"2019-02-24T06:00:00Z","p":110.5,"t":"110.30"},{"d":"2019-02-24T06:00:00Z","p":89.15,"t":"88.88"},{"d":"2019-02-24T06:00:00Z","p":70.36,"t":"70.24"},{"d":"2019-02-24T06:00:00Z","p":50.35,"t":"50.35"},{"d":"2019-02-24T06:00:00Z","p":35.92,"t":"35.92"},{"d":"2019-02-24T06:00:00Z","p":139.63,"t":"139.43"}]},
  "mark":{"type":"text","align":"left","baseline":"middle","color":"#ffffff","font":"Liberation Sans","fontSize":11},
  "encoding":{"y":{"field":"p","type":"quantitative","scale":{"domain":[-18.3,166.78],"nice":false,"zero":false},"axis":null},"text":{"field":"t"}}},
 {"data":{"values":[{"d":"2018-12-31T21:00:00Z","p":-20.43,"t":"01 Jan '19"}]},
  "mark":{"type":"text","align":"center","baseline":"middle","color":"#ffffff","font":"Liberation Sans","fontSize":11},
  "encoding":{"y":{"field":"p","type":"quantitative","scale":{"domain":[-18.3,166.78],"nice":false,"zero":false},"axis":null},"text":{"field":"t"}}},
 {"data":{"values":[{"d":"2019-02-20T06:00:00Z","p":139.63,"t":"+"}]},
  "mark":{"type":"text","align":"center","baseline":"middle","color":"#ffffff","font":"Liberation Sans","fontSize":20},
  "encoding":{"y":{"field":"p","type":"quantitative","scale":{"domain":[-18.3,166.78],"nice":false,"zero":false},"axis":null},"text":{"field":"t"}}},
 {"data":{"values":[{"d":"2018-05-02T12:00:00Z","p":163.29,"t":"LTC/USD, 1D, COINBASE"}]},
  "mark":{"type":"text","align":"left","baseline":"middle","dy":1,"color":"#4a5160","fontSize":16.4},
  "encoding":{"y":{"field":"p","type":"quantitative","scale":{"domain":[-18.3,166.78],"nice":false,"zero":false},"axis":null},"text":{"field":"t"}}},
 {"data":{"values":[{"d":"2018-06-24T06:00:00Z","p":163.29,"t":"O"},{"d":"2018-07-09T06:00:00Z","p":163.29,"t":"H"},{"d":"2018-07-24T06:00:00Z","p":163.29,"t":"L"},{"d":"2018-08-08T06:00:00Z","p":163.29,"t":"C"}]},
  "mark":{"type":"text","align":"left","baseline":"middle","dy":1,"color":"#4a5160","fontSize":15},
  "encoding":{"y":{"field":"p","type":"quantitative","scale":{"domain":[-18.3,166.78],"nice":false,"zero":false},"axis":null},"text":{"field":"t"}}},
 {"data":{"values":[{"d":"2018-06-26T18:00:00Z","p":163.29,"t":"41.87"},{"d":"2018-07-12T00:00:00Z","p":163.29,"t":"41.87"},{"d":"2018-07-26T12:00:00Z","p":163.29,"t":"35.67"},{"d":"2018-08-10T18:00:00Z","p":163.29,"t":"35.92"},{"d":"2018-08-23T06:00:00Z","p":163.29,"t":"−5.95 (−14.21%)"}]},
  "mark":{"type":"text","align":"left","baseline":"middle","dy":1,"color":"#6b1a14","fontSize":15},
  "encoding":{"y":{"field":"p","type":"quantitative","scale":{"domain":[-18.3,166.78],"nice":false,"zero":false},"axis":null},"text":{"field":"t"}}},
 {"data":{"values":[{"d":"2018-04-23T06:00:00Z","p":159.22,"t":"Vol (10)"}]},
  "mark":{"type":"text","align":"left","baseline":"middle","dy":1,"color":"#6a6f7a","fontSize":13},
  "encoding":{"y":{"field":"p","type":"quantitative","scale":{"domain":[-18.3,166.78],"nice":false,"zero":false},"axis":null},"text":{"field":"t"}}},
 {"data":{"values":[{"d":"2018-05-27T06:00:00Z","p":159.22,"t":"431.794K"}]},
  "mark":{"type":"text","align":"left","baseline":"middle","dy":1,"color":"#f0566a","fontSize":11},
  "encoding":{"y":{"field":"p","type":"quantitative","scale":{"domain":[-18.3,166.78],"nice":false,"zero":false},"axis":null},"text":{"field":"t"}}},
 {"data":{"values":[{"d":"2018-06-10T12:00:00Z","p":159.22,"t":"178.134K"}]},
  "mark":{"type":"text","align":"left","baseline":"middle","dy":1,"color":"#ffa05c","fontSize":11},
  "encoding":{"y":{"field":"p","type":"quantitative","scale":{"domain":[-18.3,166.78],"nice":false,"zero":false},"axis":null},"text":{"field":"t"}}},
 {"data":{"values":[
  {"d":"2018-04-28T12:00:00Z","d2":"2018-05-01T12:00:00Z","p":164.46,"p2":162.32},
  {"d":"2018-05-09T18:00:00Z","d2":"2018-05-12T06:00:00Z","p":160.58,"p2":158.06},
  {"d":"2018-05-13T18:00:00Z","d2":"2018-05-16T06:00:00Z","p":160.58,"p2":158.06},
  {"d":"2018-05-17T18:00:00Z","d2":"2018-05-20T12:00:00Z","p":160.58,"p2":158.06},
  {"d":"2018-05-21T18:00:00Z","d2":"2018-05-25T00:00:00Z","p":160.58,"p2":158.06}],"format":{"parse":{"d":"date","d2":"date"}}},
  "mark":{"type":"rect","fill":"#d5d8dd"},
  "encoding":{"x2":{"field":"d2"},"y":{"field":"p","type":"quantitative","scale":{"domain":[-18.3,166.78],"nice":false,"zero":false},"axis":null},"y2":{"field":"p2"}}},
 {"data":{"values":[{"d":"2018-04-23T06:00:00Z","d2":"2018-04-26T12:00:00Z","p":164.46,"p2":162.32}],"format":{"parse":{"d":"date","d2":"date"}}},
  "mark":{"type":"rect","fill":null,"stroke":"#8a8f99","strokeWidth":1},
  "encoding":{"x2":{"field":"d2"},"y":{"field":"p","type":"quantitative","scale":{"domain":[-18.3,166.78],"nice":false,"zero":false},"axis":null},"y2":{"field":"p2"}}},
 {"data":{"values":[{"d":"2018-05-11T00:00:00Z","p":159.22,"t":"◎"},{"d":"2018-05-15T00:00:00Z","p":159.22,"t":"⚙"},{"d":"2018-05-19T03:00:00Z","p":159.22,"t":"+"},{"d":"2018-05-23T09:00:00Z","p":159.22,"t":"×"}]},
  "mark":{"type":"text","align":"center","baseline":"middle","color":"#ffffff","font":"DejaVu Sans","fontSize":11},
  "encoding":{"y":{"field":"p","type":"quantitative","scale":{"domain":[-18.3,166.78],"nice":false,"zero":false},"axis":null},"text":{"field":"t"}}},
 {"data":{"values":[{"d":"2018-06-19T12:00:00Z","p":163.49,"t":"▾"},{"d":"2018-05-05T12:00:00Z","p":159.22,"t":"▾"}]},
  "mark":{"type":"text","align":"center","baseline":"middle","color":"#c4c7cc","font":"DejaVu Sans","fontSize":11},
  "encoding":{"y":{"field":"p","type":"quantitative","scale":{"domain":[-18.3,166.78],"nice":false,"zero":false},"axis":null},"text":{"field":"t"}}},
 {"data":{"values":[{"d":"2018-09-13T12:00:00Z","d2":"2018-10-14T06:00:00Z","p":168,"p2":164.65}],"format":{"parse":{"d":"date","d2":"date"}}},
  "mark":{"type":"rect","fill":"#ffffff","stroke":"#dddddd","strokeWidth":1,"cornerRadius":2},
  "encoding":{"x2":{"field":"d2"},"y":{"field":"p","type":"quantitative","scale":{"domain":[-18.3,166.78],"nice":false,"zero":false},"axis":null},"y2":{"field":"p2"}}},
 {"data":{"values":[{"d":"2018-09-28T21:00:00Z","p":166.2,"t":"Exit Full Screen (ESC)"}]},
  "mark":{"type":"text","align":"center","baseline":"middle","color":"#b3b3b3","fontSize":11},
  "encoding":{"y":{"field":"p","type":"quantitative","scale":{"domain":[-18.3,166.78],"nice":false,"zero":false},"axis":null},"text":{"field":"t"}}},
 {"data":{"values":[{"d":"2019-02-19T06:00:00Z","p":163.49}]},
  "mark":{"type":"point","filled":false,"stroke":"#ff9e57","strokeWidth":1.5,"size":200},
  "encoding":{"y":{"field":"p","type":"quantitative","scale":{"domain":[-18.3,166.78],"nice":false,"zero":false},"axis":null}}},
 {"data":{"values":[{"d":"2019-02-19T06:00:00Z","p":163.49,"t":"!"}]},
  "mark":{"type":"text","align":"center","baseline":"middle","color":"#ff9e57","fontSize":12,"fontWeight":"bold"},
  "encoding":{"y":{"field":"p","type":"quantitative","scale":{"domain":[-18.3,166.78],"nice":false,"zero":false},"axis":null},"text":{"field":"t"}}},
 {"data":{"values":[{"d":"2018-04-22T00:00:00Z","d2":"2019-03-06T00:00:00Z","p":-23.28}],"format":{"parse":{"d":"date","d2":"date"}}},
  "mark":{"type":"rule","color":"#e6e6e6","strokeWidth":1},
  "encoding":{"x2":{"field":"d2"},"y":{"field":"p","type":"quantitative","scale":{"domain":[-18.3,166.78],"nice":false,"zero":false},"axis":null}}},
 {"data":{"values":[{"d":"2018-07-05T09:36:00Z","p":-24.11,"p2":-28.76},{"d":"2019-01-26T00:00:00Z","p":-24.11,"p2":-28.76}]},
  "mark":{"type":"rule","color":"#e6e6e6","strokeWidth":1},
  "encoding":{"y":{"field":"p","type":"quantitative","scale":{"domain":[-18.3,166.78],"nice":false,"zero":false},"axis":null},"y2":{"field":"p2"}}},
 {"data":{"values":[
  {"d":"2018-04-28T00:00:00Z","p":-26.63,"t":"1D"},{"d":"2018-05-05T12:00:00Z","p":-26.63,"t":"5D"},{"d":"2018-05-13T06:00:00Z","p":-26.63,"t":"1M"},{"d":"2018-05-21T06:00:00Z","p":-26.63,"t":"3M"},{"d":"2018-05-29T06:00:00Z","p":-26.63,"t":"6M"},{"d":"2018-06-06T18:00:00Z","p":-26.63,"t":"YTD"},{"d":"2018-06-15T06:00:00Z","p":-26.63,"t":"1Y"},{"d":"2018-06-22T06:00:00Z","p":-26.63,"t":"5Y"},{"d":"2018-06-29T12:00:00Z","p":-26.63,"t":"All"},{"d":"2018-07-16T06:00:00Z","p":-26.63,"t":"Go to..."},{"d":"2019-01-08T18:00:00Z","p":-26.63,"t":"23:58:58 (UTC+3)"},{"d":"2019-02-01T00:00:00Z","p":-26.63,"t":"%"},{"d":"2019-02-08T06:00:00Z","p":-26.63,"t":"log"},{"d":"2019-02-17T18:00:00Z","p":-26.63,"t":"auto"}]},
  "mark":{"type":"text","align":"center","baseline":"middle","dy":1,"color":"#2a2e39","fontSize":13.5},
  "encoding":{"y":{"field":"p","type":"quantitative","scale":{"domain":[-18.3,166.78],"nice":false,"zero":false},"axis":null},"text":{"field":"t"}}},
 {"data":{"values":[{"d":"2019-02-27T12:00:00Z","p":-26.63,"t":"⚙"}]},
  "mark":{"type":"text","align":"center","baseline":"middle","color":"#131722","font":"DejaVu Sans","fontSize":16},
  "encoding":{"y":{"field":"p","type":"quantitative","scale":{"domain":[-18.3,166.78],"nice":false,"zero":false},"axis":null},"text":{"field":"t"}}},
 {"data":{"values":[{"d":"2018-04-21T00:00:00Z","d2":"2019-03-07T00:00:00Z","p":167.75,"p2":-30.69}],"format":{"parse":{"d":"date","d2":"date"}}},
  "mark":{"type":"rect","fill":null,"stroke":"#e8ebee","strokeWidth":8,"cornerRadius":6},
  "encoding":{"x2":{"field":"d2"},"y":{"field":"p","type":"quantitative","scale":{"domain":[-18.3,166.78],"nice":false,"zero":false},"axis":null},"y2":{"field":"p2"}}}
]}
